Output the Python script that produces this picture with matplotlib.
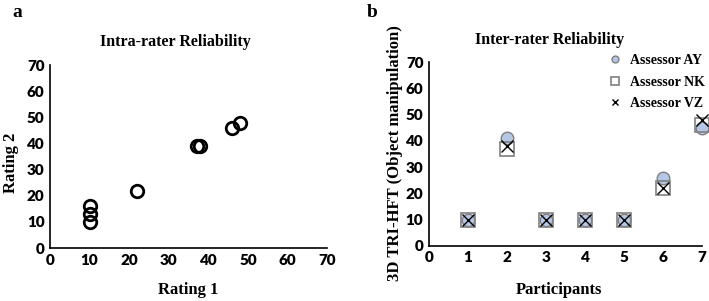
import matplotlib
matplotlib.use("Agg")
import matplotlib.pyplot as plt

# panel a: intra-rater
rating1 = [10, 10, 10, 22, 37, 38, 46, 48]
rating2 = [10, 13, 16, 22, 39, 39, 46, 48]

# panel b: inter-rater
participants = [1, 2, 3, 4, 5, 6, 7]
assessor_ay = [10, 41, 10, 10, 10, 26, 45]
assessor_nk = [10, 37, 10, 10, 10, 22, 46]
assessor_vz = [10, 38, 10, 10, 10, 22, 48]

serif = 'Liberation Serif'
tickfont = dict(family='Lato', weight='heavy', size=11)

fig = plt.figure(figsize=(7.09, 3.01), dpi=100)

ax1 = fig.add_axes([0.0705, 0.176, 0.391, 0.608])
ax1.plot(rating1, rating2, 'o', ms=9, mfc='none', mec='black', mew=2)
ax1.set_xlim(0, 70)
ax1.set_ylim(0, 70)
ax1.set_xticks(range(0, 71, 10))
ax1.set_yticks(range(0, 71, 10))

ax2 = fig.add_axes([0.605, 0.183, 0.385, 0.611])
ax2.plot(participants, assessor_ay, 'o', ms=9, mfc='#b4c7e7', mec='#7f7f7f', mew=1, label='Assessor AY', clip_on=False)
ax2.plot(participants, assessor_nk, 's', ms=10, mfc='none', mec='#7f7f7f', mew=1.2, label='Assessor NK', clip_on=False)
ax2.plot(participants, assessor_vz, 'x', ms=8, mec='black', mew=1, label='Assessor VZ', clip_on=False)
ax2.set_xlim(0, 7)
ax2.set_ylim(0, 70)
ax2.set_xticks(range(0, 8))
ax2.set_yticks(range(0, 71, 10))

for ax in (ax1, ax2):
    for s in ('top', 'right'):
        ax.spines[s].set_visible(False)
    for s in ('left', 'bottom'):
        ax.spines[s].set_linewidth(1.2)
    ax.tick_params(length=0, pad=4)
    for lab in ax.get_xticklabels() + ax.get_yticklabels():
        lab.set_fontproperties(tickfont)

leg = ax2.legend(loc='upper left', bbox_to_anchor=(0.615, 1.11), frameon=False,
                 prop=dict(family=serif, weight='bold', size=10),
                 handlelength=0.8, handletextpad=0.7, labelspacing=0.6, markerscale=0.55)

fig.text(0.248, 0.86, 'Intra-rater Reliability', family=serif, weight='bold', size=11.5, ha='center', va='center')
fig.text(0.775, 0.866, 'Inter-rater Reliability', family=serif, weight='bold', size=11.5, ha='center', va='center')
fig.text(0.025, 0.96, 'a', family=serif, weight='bold', size=14, ha='center', va='center')
fig.text(0.525, 0.96, 'b', family=serif, weight='bold', size=14, ha='center', va='center')
fig.text(0.265, 0.035, 'Rating 1', family=serif, weight='bold', size=12, ha='center', va='center')
fig.text(0.788, 0.035, 'Participants', family=serif, weight='bold', size=12, ha='center', va='center')
fig.text(0.015, 0.46, 'Rating 2', family=serif, weight='bold', size=12, ha='center', va='center', rotation=90)
fig.text(0.557, 0.49, '3D TRI-HFT (Object manipulation)', family=serif, weight='bold', size=12, ha='center', va='center', rotation=90)

fig.savefig('out.png', dpi=100)
